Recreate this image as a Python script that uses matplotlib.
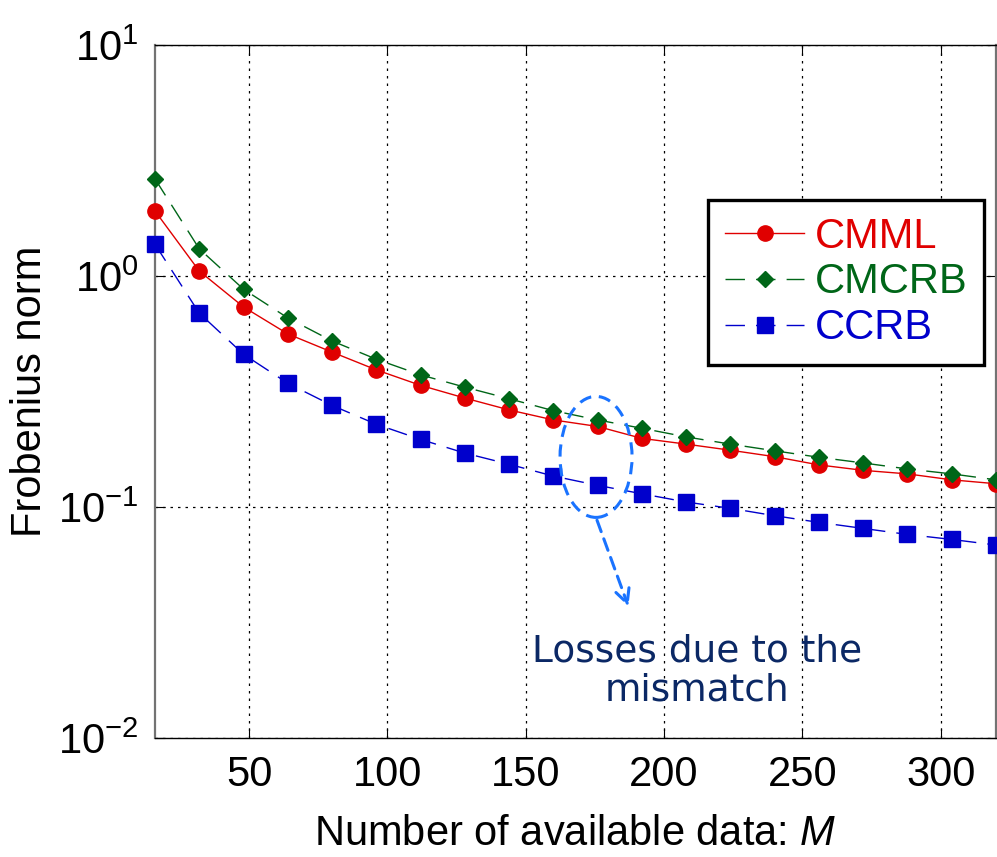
import matplotlib
matplotlib.use("Agg")
import matplotlib.pyplot as plt
from matplotlib.patches import Ellipse

plt.rcParams['font.family'] = ['Liberation Sans', 'DejaVu Sans']
plt.rcParams['mathtext.fontset'] = 'custom'
plt.rcParams['mathtext.rm'] = 'Liberation Sans'
plt.rcParams['mathtext.it'] = 'Liberation Sans:italic'

# ---------------------------------------------------------------------
# data
M = [16, 32, 48, 64, 80, 96, 112, 128, 144, 160,
     176, 192, 208, 224, 240, 256, 272, 288, 304, 320]

cmml = [1.91, 1.05, 0.734, 0.561, 0.468, 0.392, 0.336, 0.296, 0.263, 0.238,
        0.223, 0.198, 0.187, 0.176, 0.165, 0.152, 0.144, 0.139, 0.131, 0.126]

cmcrb = [2.63, 1.31, 0.876, 0.658, 0.523, 0.436, 0.373, 0.330, 0.294, 0.261,
         0.238, 0.219, 0.201, 0.187, 0.175, 0.164, 0.155, 0.146, 0.139, 0.131]

ccrb = [1.37, 0.690, 0.458, 0.343, 0.275, 0.228, 0.196, 0.171, 0.153, 0.136,
        0.124, 0.114, 0.105, 0.0986, 0.0916, 0.0857, 0.0807, 0.0760, 0.0723, 0.0684]

xticks = [50, 100, 150, 200, 250, 300]
yticks = [1e-2, 1e-1, 1e0, 1e1]

red = '#e00000'
green = '#006618'
blue = '#0000cc'

# ---------------------------------------------------------------------
fig = plt.figure(figsize=(9.97, 8.57), dpi=100)
ax = fig.add_axes([0.1555, 0.139, 0.8435, 0.8085])

ax.plot(M, cmml, '-', color=red, lw=1.0, marker='o', ms=11,
        label='CMML', clip_on=False, zorder=3)
ax.plot(M, cmcrb, '--', color=green, lw=1.0, marker='D', ms=8.5,
        dashes=(14, 8), label='CMCRB', clip_on=False, zorder=4)
ax.plot(M, ccrb, '--', color=blue, lw=1.0, marker='s', ms=12,
        dashes=(14, 8), label='CCRB', clip_on=False, zorder=3)

ax.set_yscale('log')
ax.set_xlim(16, 320)
ax.set_ylim(1e-2, 1e1)
ax.set_xticks(xticks)
ax.set_yticks(yticks)
ax.minorticks_off()
ax.tick_params(which='both', direction='in', top=True, right=True,
               length=7, labelsize=30, pad=12)
ax.grid(True, ls=(0, (2, 4)), color='black', lw=0.9)

for s in ['left', 'right']:
    ax.spines[s].set_color('0.45')
    ax.spines[s].set_linewidth(1.6)
for s in ['top', 'bottom']:
    ax.spines[s].set_color('black')
    ax.spines[s].set_linewidth(1.0)

ax.set_xlabel('Number of available data: $\\mathit{M}$', fontsize=30, labelpad=14)
ax.set_ylabel('Frobenius norm', fontsize=30, labelpad=6)

leg = ax.legend(loc='upper right', bbox_to_anchor=(0.9857, 0.7763), fontsize=30,
                frameon=True, fancybox=False, edgecolor='black',
                handlelength=1.9, handletextpad=0.25, borderpad=0.4,
                labelspacing=0.14, borderaxespad=0)
leg.get_frame().set_linewidth(2.4)
leg.get_frame().set_alpha(1)
for txt, c in zip(leg.get_texts(), [red, green, blue]):
    txt.set_color(c)

# annotation: ellipse + arrow + text
ell = Ellipse((0.5244, 0.4055), 0.0856, 0.1746, transform=ax.transAxes,
              fill=False, edgecolor='#1a73ff', lw=2.2, ls=(0, (4, 2.5)), zorder=5)
ax.add_patch(ell)
ax.annotate('', xy=(0.564, 0.186), xytext=(0.5244, 0.318),
            xycoords='axes fraction', textcoords='axes fraction',
            arrowprops=dict(arrowstyle='->', color='#1a73ff', lw=2.2,
                            ls=(0, (4, 2.5)), mutation_scale=25))
ax.text(0.644, 0.096, 'Losses due to the\nmismatch', transform=ax.transAxes,
        ha='center', va='center', fontsize=27, color='#0b2865',
        family='DejaVu Sans', linespacing=1.1)

fig.savefig('out.png', dpi=100)
